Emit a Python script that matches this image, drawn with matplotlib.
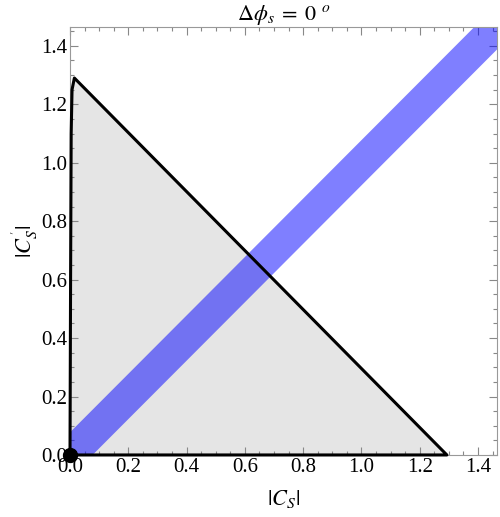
import matplotlib
matplotlib.use('Agg')
import matplotlib.pyplot as plt
from matplotlib.ticker import MultipleLocator

# allowed region boundary (|C_S|, |C_S'|)
region_x = [0.0, 0.002, 0.004, 0.007, 0.015, 1.293, 0.0]
region_y = [0.0, 0.60, 1.10, 1.25, 1.290, 0.0, 0.0]

# measured band (centre line)
band_x = [0.045, 1.6]
band_y = [0.045, 1.6]

# best fit point
point_x = [0.0]
point_y = [0.0]

xticks = [0.0, 0.2, 0.4, 0.6, 0.8, 1.0, 1.2, 1.4]
yticks = [0.0, 0.2, 0.4, 0.6, 0.8, 1.0, 1.2, 1.4]

plt.rcParams.update({
    'font.family': ['Liberation Serif', 'DejaVu Serif'],
    'mathtext.fontset': 'stix',
    'font.size': 14,
})

fig = plt.figure(figsize=(5.0, 5.17), dpi=100)
ax = fig.add_axes([0.14, 0.12, 0.854, 0.828])

ax.fill(region_x, region_y, color='#e5e5e5', zorder=1)
ax.plot(band_x, band_y, color='blue', alpha=0.5, linewidth=23,
        solid_capstyle='round', zorder=2)
ax.plot(region_x, region_y, color='black', linewidth=2.2, zorder=3,
        clip_on=False)
ax.plot(point_x, point_y, 'o', color='black', markersize=10, zorder=4,
        clip_on=False)

ax.set_xlim(0, 1.465)
ax.set_ylim(0, 1.465)
ax.set_xticks(xticks)
ax.set_yticks(yticks)
ax.set_xticklabels([f'{t:.1f}' for t in xticks])
ax.set_yticklabels([f'{t:.1f}' for t in yticks])
ax.xaxis.set_minor_locator(MultipleLocator(0.05))
ax.yaxis.set_minor_locator(MultipleLocator(0.05))
ax.tick_params(which='both', direction='in', top=True, right=True,
               color='#888888', width=0.8)
ax.tick_params(which='major', length=6, labelsize=15, pad=2)
ax.tick_params(which='minor', length=3)
for spine in ax.spines.values():
    spine.set_color('#999999')
    spine.set_linewidth(0.8)

ax.set_xlabel(r'$|C_S|$', fontsize=16, labelpad=8)
ax.set_ylabel(r"$|C_S^{\,'}|$", fontsize=16, labelpad=1)
ax.set_title(r'$\Delta\phi_s\;=\;0\ ^o$', fontsize=16, pad=3)

fig.savefig('out.png', dpi=100)
